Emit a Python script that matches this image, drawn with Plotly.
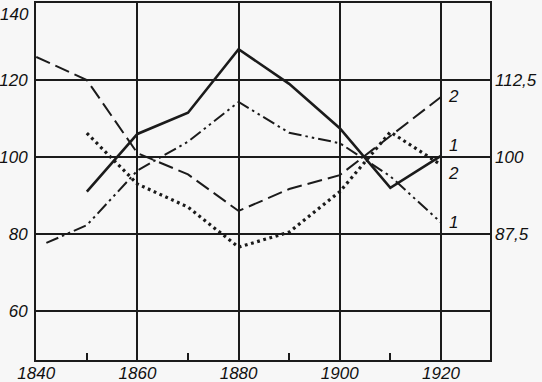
import plotly.graph_objects as go

# ---- data ----
years_a = [1850, 1860, 1870, 1880, 1890, 1900, 1910, 1920]
solid_vals = [91, 106, 111.5, 128, 119, 107.5, 92, 100.3]

years_b = [1840, 1850, 1860, 1870, 1880, 1890, 1900, 1910, 1920]
dashed_vals = [126, 120, 101, 95.5, 86, 91.7, 95.3, 105.5, 115.6]

years_c = [1842, 1850, 1860, 1870, 1880, 1890, 1900, 1910, 1920]
dashdot_vals = [77.7, 82.3, 96.5, 104, 114.3, 106.3, 103.6, 95, 83]

years_d = [1850, 1860, 1870, 1880, 1890, 1900, 1910, 1920]
dotted_vals = [106.2, 93, 87, 76.6, 80.5, 91, 106.5, 98]

x_ticks = [1840, 1860, 1880, 1900, 1920]
x_minor = [1850, 1870, 1890, 1910]
left_ticks = [60, 80, 100, 120]
left_top_label = 140
right_ticks = [87.5, 100, 112.5]
right_ticktext = ["87,5", "100", "112,5"]

line_labels = ["2", "1", "2", "1"]
line_label_y = [115.6, 103.1, 95.8, 82.9]
line_label_x = 1922.4

# ---- styling ----
INK = "#1b1b1b"
BG = "#f7f7f7"
FONT = dict(family="Liberation Sans, Arial, sans-serif", size=17, color="#111111", style="italic")

fig = go.Figure()
fig.add_trace(go.Scatter(x=years_a, y=solid_vals, mode="lines",
                         line=dict(color=INK, width=2.6), hoverinfo="skip"))
fig.add_trace(go.Scatter(x=years_b, y=dashed_vals, mode="lines",
                         line=dict(color=INK, width=2, dash="15px,6px"), hoverinfo="skip"))
fig.add_trace(go.Scatter(x=years_c, y=dashdot_vals, mode="lines",
                         line=dict(color=INK, width=2, dash="13px,4px,2.5px,4px,2.5px,4px"),
                         hoverinfo="skip"))
fig.add_trace(go.Scatter(x=years_d, y=dotted_vals, mode="lines",
                         line=dict(color=INK, width=3.2, dash="2.8px,3.6px"), hoverinfo="skip"))
# invisible helper so the right-hand scale is drawn
fig.add_trace(go.Scatter(x=[1920] * len(right_ticks), y=right_ticks, yaxis="y2",
                         mode="markers", marker=dict(opacity=0), hoverinfo="skip"))

y_lo, y_hi = 47.3, 140.0
def to_right(v):
    return 100 + (v - 100) * 0.625

fig.update_layout(
    width=542, height=382,
    margin=dict(l=36, r=52, t=3, b=22, autoexpand=False),
    paper_bgcolor=BG, plot_bgcolor=BG,
    showlegend=False,
    xaxis=dict(range=[1839.95, 1929.7], tickvals=x_ticks, ticks="", automargin=False,
               showgrid=True, gridcolor=INK, gridwidth=1.5,
               showline=True, linecolor=INK, linewidth=2, mirror=True,
               zeroline=False, tickfont=FONT, ticklabelstandoff=-3,
               minor=dict(tickvals=x_minor, ticks="inside", ticklen=7,
                          tickwidth=1.5, tickcolor=INK, showgrid=False)),
    yaxis=dict(range=[y_lo, y_hi], tickvals=left_ticks, ticks="", automargin=False,
               showgrid=True, gridcolor=INK, gridwidth=1.5,
               showline=True, linecolor=INK, linewidth=2, mirror=True,
               zeroline=False, tickfont=FONT, ticklabelstandoff=3),
    yaxis2=dict(range=[to_right(y_lo), to_right(y_hi)], overlaying="y", side="right",
                tickvals=right_ticks, ticktext=right_ticktext, ticks="", automargin=False,
                showgrid=False, zeroline=False, showline=False,
                tickfont=FONT, ticklabelstandoff=4),
)

annotations = [dict(x=0, xref="paper", y=left_top_label, yref="y", text=str(left_top_label),
                    xanchor="right", yanchor="top", xshift=-5, showarrow=False, font=FONT)]
for t, yv in zip(line_labels, line_label_y):
    annotations.append(dict(x=line_label_x, y=yv, xref="x", yref="y", text=t,
                            showarrow=False, xanchor="center", yanchor="middle", font=FONT))
fig.update_layout(annotations=annotations)

fig.write_html("out.html", config={"displayModeBar": False},
               post_script="document.body.style.margin='0';document.body.style.overflow='hidden';")
